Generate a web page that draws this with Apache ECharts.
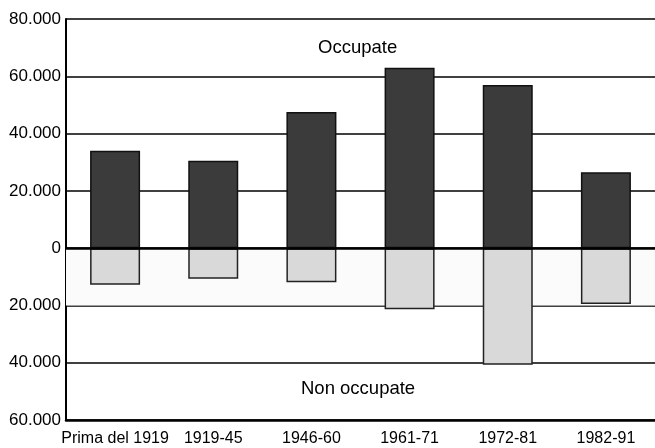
<!DOCTYPE html>
<html>
<head>
<meta charset="utf-8">
<script src="https://cdn.jsdelivr.net/npm/echarts@6/dist/echarts.min.js"></script>
<style>
  html, body { margin: 0; padding: 0; background: #fff; }
  #main { width: 655px; height: 448px; }
</style>
</head>
<body>
<div id="main"></div>
<script>
// 数据
let categories = ['Prima del 1919', '1919-45', '1946-60', '1961-71', '1972-81', '1982-91']
let occupate = [34000, 30500, 47500, 63000, 57000, 26500]
let nonOccupate = [-12800, -10700, -11900, -21300, -40700, -19500]

let ele = echarts.init(document.getElementById('main'))

// 数字格式: 20.000
function fmt(v) {
    let n = Math.abs(v)
    return n === 0 ? '0' : String(n).replace(/\B(?=(\d{3})+(?!\d))/g, '.')
}

const option = {
    animation: false,
    textStyle: { fontFamily: 'Liberation Sans, Arial, sans-serif' },
    grid: { left: 66, right: -2, top: 19, bottom: 28 },
    xAxis: {
        type: 'category',
        data: categories,
        axisLine: { onZero: false, lineStyle: { color: '#000', width: 2.5 } },
        axisTick: { show: false },
        axisLabel: { color: '#000', fontSize: 16, margin: 11, interval: 0 }
    },
    yAxis: {
        type: 'value',
        min: -60000,
        max: 80000,
        interval: 20000,
        axisLine: { show: true, lineStyle: { color: '#000', width: 2 } },
        axisTick: { show: false },
        axisLabel: { color: '#000', fontSize: 17, margin: 5, formatter: fmt },
        splitLine: { lineStyle: { color: '#000', width: 1.5 } }
    },
    series: [
        {
            name: 'Occupate',
            type: 'bar',
            stack: 'a',
            barWidth: 50,
            data: occupate,
            itemStyle: { color: '#3b3b3b', borderColor: '#111', borderWidth: 1.5 },
            markLine: {
                silent: true,
                symbol: 'none',
                label: { show: false },
                lineStyle: { color: '#000', width: 2.5, type: 'solid' },
                data: [{ yAxis: 0 }]
            },
            markArea: {
                silent: true,
                itemStyle: { color: '#fbfbfb' },
                data: [[{ yAxis: 0 }, { yAxis: -20000 }]]
            }
        },
        {
            name: 'Non occupate',
            type: 'bar',
            stack: 'a',
            barWidth: 50,
            data: nonOccupate,
            itemStyle: { color: '#d9d9d9', borderColor: '#222', borderWidth: 1.5 }
        }
    ],
    graphic: [
        {
            type: 'text', left: 318, top: 38,
            style: { text: 'Occupate', fontSize: 18.5, fill: '#000', fontFamily: 'Liberation Sans, Arial, sans-serif' }
        },
        {
            type: 'text', left: 301, top: 379,
            style: { text: 'Non occupate', fontSize: 18.5, fill: '#000', fontFamily: 'Liberation Sans, Arial, sans-serif' }
        }
    ]
}
ele.setOption(option)
</script>
</body>
</html>
